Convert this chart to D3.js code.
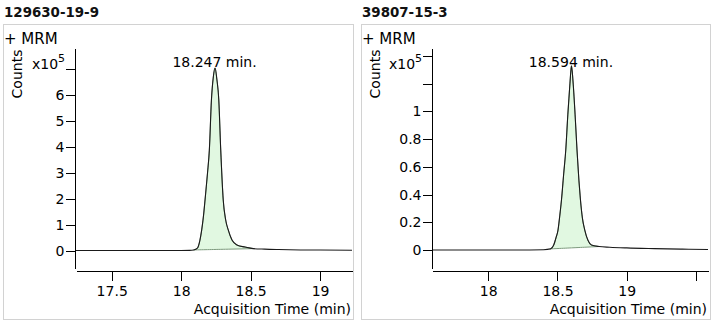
<!DOCTYPE html>
<html>
<head>
<meta charset="utf-8">
<script src="https://cdn.jsdelivr.net/npm/d3@7/dist/d3.min.js"></script>
<style>
  html, body { margin: 0; padding: 0; background: #fff; }
  svg { display: block; font-family: "DejaVu Sans", Verdana, sans-serif; }
</style>
</head>
<body>
<svg id="chart" width="717" height="324"></svg>
<script>
// Compound 1: 129630-19-9 (counts in units of 1e5)
const titles = ["129630-19-9", "39807-15-3"];
const peakLabels = ["18.247 min.", "18.594 min."];

const time1 = [17.243, 17.4, 17.6, 17.8, 18.0, 18.06, 18.09, 18.117, 18.135, 18.148, 18.16, 18.172,
  18.19, 18.203, 18.218, 18.232, 18.244, 18.257, 18.271, 18.285, 18.303, 18.32, 18.339, 18.366,
  18.402, 18.46, 18.52, 18.6, 18.7, 18.86, 19.0, 19.23];
const counts1 = [0.01, 0.01, 0.01, 0.01, 0.01, 0.015, 0.03, 0.1, 0.4, 0.8, 1.3, 1.95,
  3.0, 3.87, 5.8, 6.7, 7.03, 6.6, 5.8, 3.87, 1.95, 1.2, 0.8, 0.41,
  0.22, 0.14, 0.08, 0.06, 0.045, 0.03, 0.025, 0.02];
const peakRange1 = [18.09, 18.52];

// Compound 2: 39807-15-3 (counts in units of 1e5)
const time2 = [17.6, 17.8, 18.0, 18.2, 18.4, 18.45, 18.473, 18.49, 18.504, 18.517, 18.529, 18.545,
  18.56, 18.575, 18.59, 18.601, 18.612, 18.627, 18.641, 18.655, 18.666, 18.68, 18.697, 18.72,
  18.745, 18.8, 18.877, 19.0, 19.2, 19.4, 19.586];
const counts2 = [0.0, 0.0, 0.0, 0.0, 0.002, 0.008, 0.036, 0.09, 0.144, 0.25, 0.361, 0.55,
  0.722, 0.98, 1.2, 1.33, 1.22, 0.98, 0.722, 0.5, 0.361, 0.23, 0.144, 0.07,
  0.036, 0.025, 0.02, 0.015, 0.01, 0.006, 0.004];
const peakRange2 = [18.45, 18.8];

// Axis ticks and their labels
const yTicks1 = [0, 1, 2, 3, 4, 5, 6, 7];
const yTickLabels1 = ["0", "1", "2", "3", "4", "5", "6", ""];
const xTicks1 = [17.5, 18, 18.5, 19];
const xTickLabels1 = ["17.5", "18", "18.5", "19"];

const yTicks2 = [0, 0.2, 0.4, 0.6, 0.8, 1.0, 1.2, 1.4];
const yTickLabels2 = ["0", "0.2", "0.4", "0.6", "0.8", "1", "", ""];
const xTicks2 = [18, 18.5, 19, 19.5];
const xTickLabels2 = ["18", "18.5", "19", ""];

const panels = [
  { title: titles[0], label: peakLabels[0], time: time1, counts: counts1, range: peakRange1,
    xDomain: [17.243, 19.23], yDomain: [-0.665, 7.8], yTicks: yTicks1, yLabels: yTickLabels1,
    xTicks: xTicks1, xLabels: xTickLabels1, yAxisX: 74, xRange: [76, 352], frame: [3, 353] },
  { title: titles[1], label: peakLabels[1], time: time2, counts: counts2, range: peakRange2,
    xDomain: [17.6, 19.586], yDomain: [-0.13, 1.458], yTicks: yTicks2, yLabels: yTickLabels2,
    xTicks: xTicks2, xLabels: xTickLabels2, yAxisX: 431, xRange: [432.7, 708], frame: [361, 710] }
];

const svg = d3.select("#chart");

panels.forEach(p => {
  const g = svg.append("g");
  const x = d3.scaleLinear().domain(p.xDomain).range(p.xRange);
  const y = d3.scaleLinear().domain(p.yDomain).range([268, 48]);
  const pts = p.time.map((t, i) => ({ t, v: p.counts[i] }));
  const fx = p.frame[0];

  // Title above the frame
  g.append("text").attr("x", fx + 1).attr("y", 17)
    .attr("font-size", 13.4).attr("font-weight", "bold").attr("fill", "#111")
    .text(p.title);

  // Frame
  g.append("rect").attr("x", fx + 0.5).attr("y", 24.5)
    .attr("width", p.frame[1] - fx).attr("height", 295)
    .attr("fill", "none").attr("stroke", "#d2d2d2");

  g.append("text").attr("x", fx + 1).attr("y", 44).attr("font-size", 15).text("+ MRM");

  // Counts label with exponent
  g.append("text").attr("transform", `translate(${fx + 19},74) rotate(-90)`)
    .attr("text-anchor", "middle").attr("font-size", 14).text("Counts");
  const ex = g.append("text").attr("x", p.yAxisX - 42).attr("y", 69).attr("font-size", 14);
  ex.append("tspan").text("x10");
  ex.append("tspan").attr("dy", -7).attr("font-size", 11).text("5");

  // Integrated peak area
  const inPeak = pts.filter(d => d.t >= p.range[0] && d.t <= p.range[1]);
  const v0 = inPeak[0].v, v1 = inPeak[inPeak.length - 1].v;
  const base = t => v0 + (v1 - v0) * (t - p.range[0]) / (p.range[1] - p.range[0]);
  const area = d3.area().curve(d3.curveMonotoneX)
    .x(d => x(d.t)).y0(d => y(base(d.t))).y1(d => y(d.v));
  g.append("path").datum(inPeak).attr("d", area)
    .attr("fill", "#e1f8e1").attr("stroke", "#7d9a7d").attr("stroke-width", 1);

  // Chromatogram trace
  const line = d3.line().curve(d3.curveMonotoneX).x(d => x(d.t)).y(d => y(d.v));
  g.append("path").datum(pts).attr("d", line)
    .attr("fill", "none").attr("stroke", "#1a1a1a").attr("stroke-width", 1.1);

  // Peak apex label
  const apex = pts.reduce((a, b) => (b.v > a.v ? b : a));
  g.append("text").attr("x", x(apex.t) - 0.5).attr("y", 67)
    .attr("text-anchor", "middle").attr("font-size", 14).text(p.label);

  // Axes
  const yAxis = d3.axisLeft(y).tickValues(p.yTicks)
    .tickFormat((d, i) => p.yLabels[i]).tickSize(9).tickPadding(1).tickSizeOuter(0);
  const ya = g.append("g").attr("transform", `translate(${p.yAxisX + 0.5},0)`).call(yAxis);

  const xAxis = d3.axisBottom(x).tickValues(p.xTicks)
    .tickFormat((d, i) => p.xLabels[i]).tickSize(10).tickPadding(6).tickSizeOuter(0);
  const xa = g.append("g").attr("transform", "translate(0,270.5)").call(xAxis);

  [ya, xa].forEach(a => {
    a.attr("font-family", null).attr("font-size", 14);
    a.selectAll("path, line").attr("stroke", "#000").attr("shape-rendering", "crispEdges");
    a.selectAll("text").attr("fill", "#000");
  });

  g.append("text").attr("x", p.xRange[1] - 1).attr("y", 314)
    .attr("text-anchor", "end").attr("font-size", 14).text("Acquisition Time (min)");
});
</script>
</body>
</html>
